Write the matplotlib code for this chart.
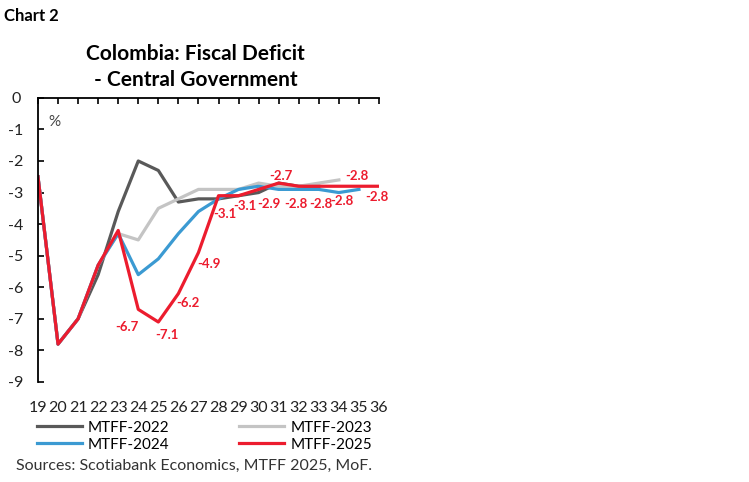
import matplotlib
matplotlib.use("Agg")
import matplotlib.pyplot as plt

plt.rcParams['font.family'] = ['Lato', 'DejaVu Sans']

years = list(range(19, 37))
year_labels = [str(y) for y in years]

mtff_2022 = [-2.5, -7.8, -7.0, -5.6, -3.6, -2.0, -2.3, -3.3, -3.2, -3.2, -3.1, -3.0, -2.7, -2.8, -2.8]
mtff_2023 = [-2.5, -7.8, -7.0, -5.3, -4.3, -4.5, -3.5, -3.2, -2.9, -2.9, -2.9, -2.7, -2.8, -2.8, -2.7, -2.6]
mtff_2024 = [-2.5, -7.8, -7.0, -5.3, -4.3, -5.6, -5.1, -4.3, -3.6, -3.2, -2.9, -2.8, -2.9, -2.9, -2.9, -3.0, -2.9]
mtff_2025 = [-2.5, -7.8, -7.0, -5.3, -4.2, -6.7, -7.1, -6.2, -4.9, -3.1, -3.1, -2.9, -2.7, -2.8, -2.8, -2.8, -2.8, -2.8]

# which red points get a label, and where (pixel offsets)
label_years = [24, 25, 26, 27, 28, 29, 30, 31, 32, 33, 34, 35, 36]
label_offsets = [(-11, -18), (9, -13), (9, -9), (10, -11), (6, -18), (6, -10),
                 (10, -15), (2, 7), (-3, -18), (2, -18), (3, -15), (-2, 10), (-2, -11)]

fig = plt.figure(figsize=(7.49, 4.82), dpi=100)
ax = fig.add_axes([0.0507, 0.2075, 0.4553, 0.5895])

l22, = ax.plot(years[:len(mtff_2022)], mtff_2022, color='#595959', lw=2.3, label='MTFF-2022')
l23, = ax.plot(years[:len(mtff_2023)], mtff_2023, color='#c4c4c4', lw=2.3, label='MTFF-2023')
l24, = ax.plot(years[:len(mtff_2024)], mtff_2024, color='#3b9ad2', lw=2.3, label='MTFF-2024')
l25, = ax.plot(years, mtff_2025, color='#ec1c2e', lw=2.3, label='MTFF-2025')

for yr, off in zip(label_years, label_offsets):
    v = mtff_2025[years.index(yr)]
    ax.annotate(f"{v:.1f}", (yr, v), xytext=off, textcoords='offset pixels',
                ha='center', va='center', color='#ec1c2e', fontsize=9.5,
                fontweight='bold')

ax.set_xlim(19, 36)
ax.set_ylim(-9, 0)
ax.set_yticks(range(-9, 1))
ax.set_yticklabels([str(v) for v in range(-9, 1)])
ax.set_xticks(years)
ax.set_xticklabels(year_labels)

for s in ['right', 'bottom']:
    ax.spines[s].set_visible(False)
for s in ['top', 'left']:
    ax.spines[s].set_linewidth(1.3)
    ax.spines[s].set_color('black')

ax.tick_params(axis='x', top=True, bottom=False, labeltop=False, labelbottom=True,
               direction='in', length=4, width=1.2, pad=14, labelsize=11.5,
               labelcolor='#222222')
ax.tick_params(axis='y', direction='in', length=4, width=1.2, pad=16,
               labelsize=11.5, labelcolor='#222222')
for lab in ax.get_yticklabels():
    lab.set_horizontalalignment('center')

ax.text(0.03, 0.915, '%', transform=ax.transAxes, fontsize=11, color='#444444',
        ha='left', va='center')

fig.text(0.006, 0.966, 'Chart 2', fontsize=12, fontweight='bold', ha='left', va='center')
fig.text(0.261, 0.888, 'Colombia: Fiscal Deficit', fontsize=15, fontweight='bold',
         ha='center', va='center')
fig.text(0.261, 0.833, '- Central Government', fontsize=15, fontweight='bold',
         ha='center', va='center')

fig.legend([l22, l24, l23, l25], ['MTFF-2022', 'MTFF-2024', 'MTFF-2023', 'MTFF-2025'],
           loc='upper left', bbox_to_anchor=(0.041, 0.14), ncol=2, frameon=False,
           fontsize=11, handlelength=2.95, columnspacing=4.55, handletextpad=0.4,
           labelspacing=0.2, borderaxespad=0)
fig.text(0.022, 0.034, 'Sources: Scotiabank Economics, MTFF 2025, MoF.', fontsize=11.5,
         color='#333333', ha='left', va='center')

fig.savefig('out.png', dpi=100)
